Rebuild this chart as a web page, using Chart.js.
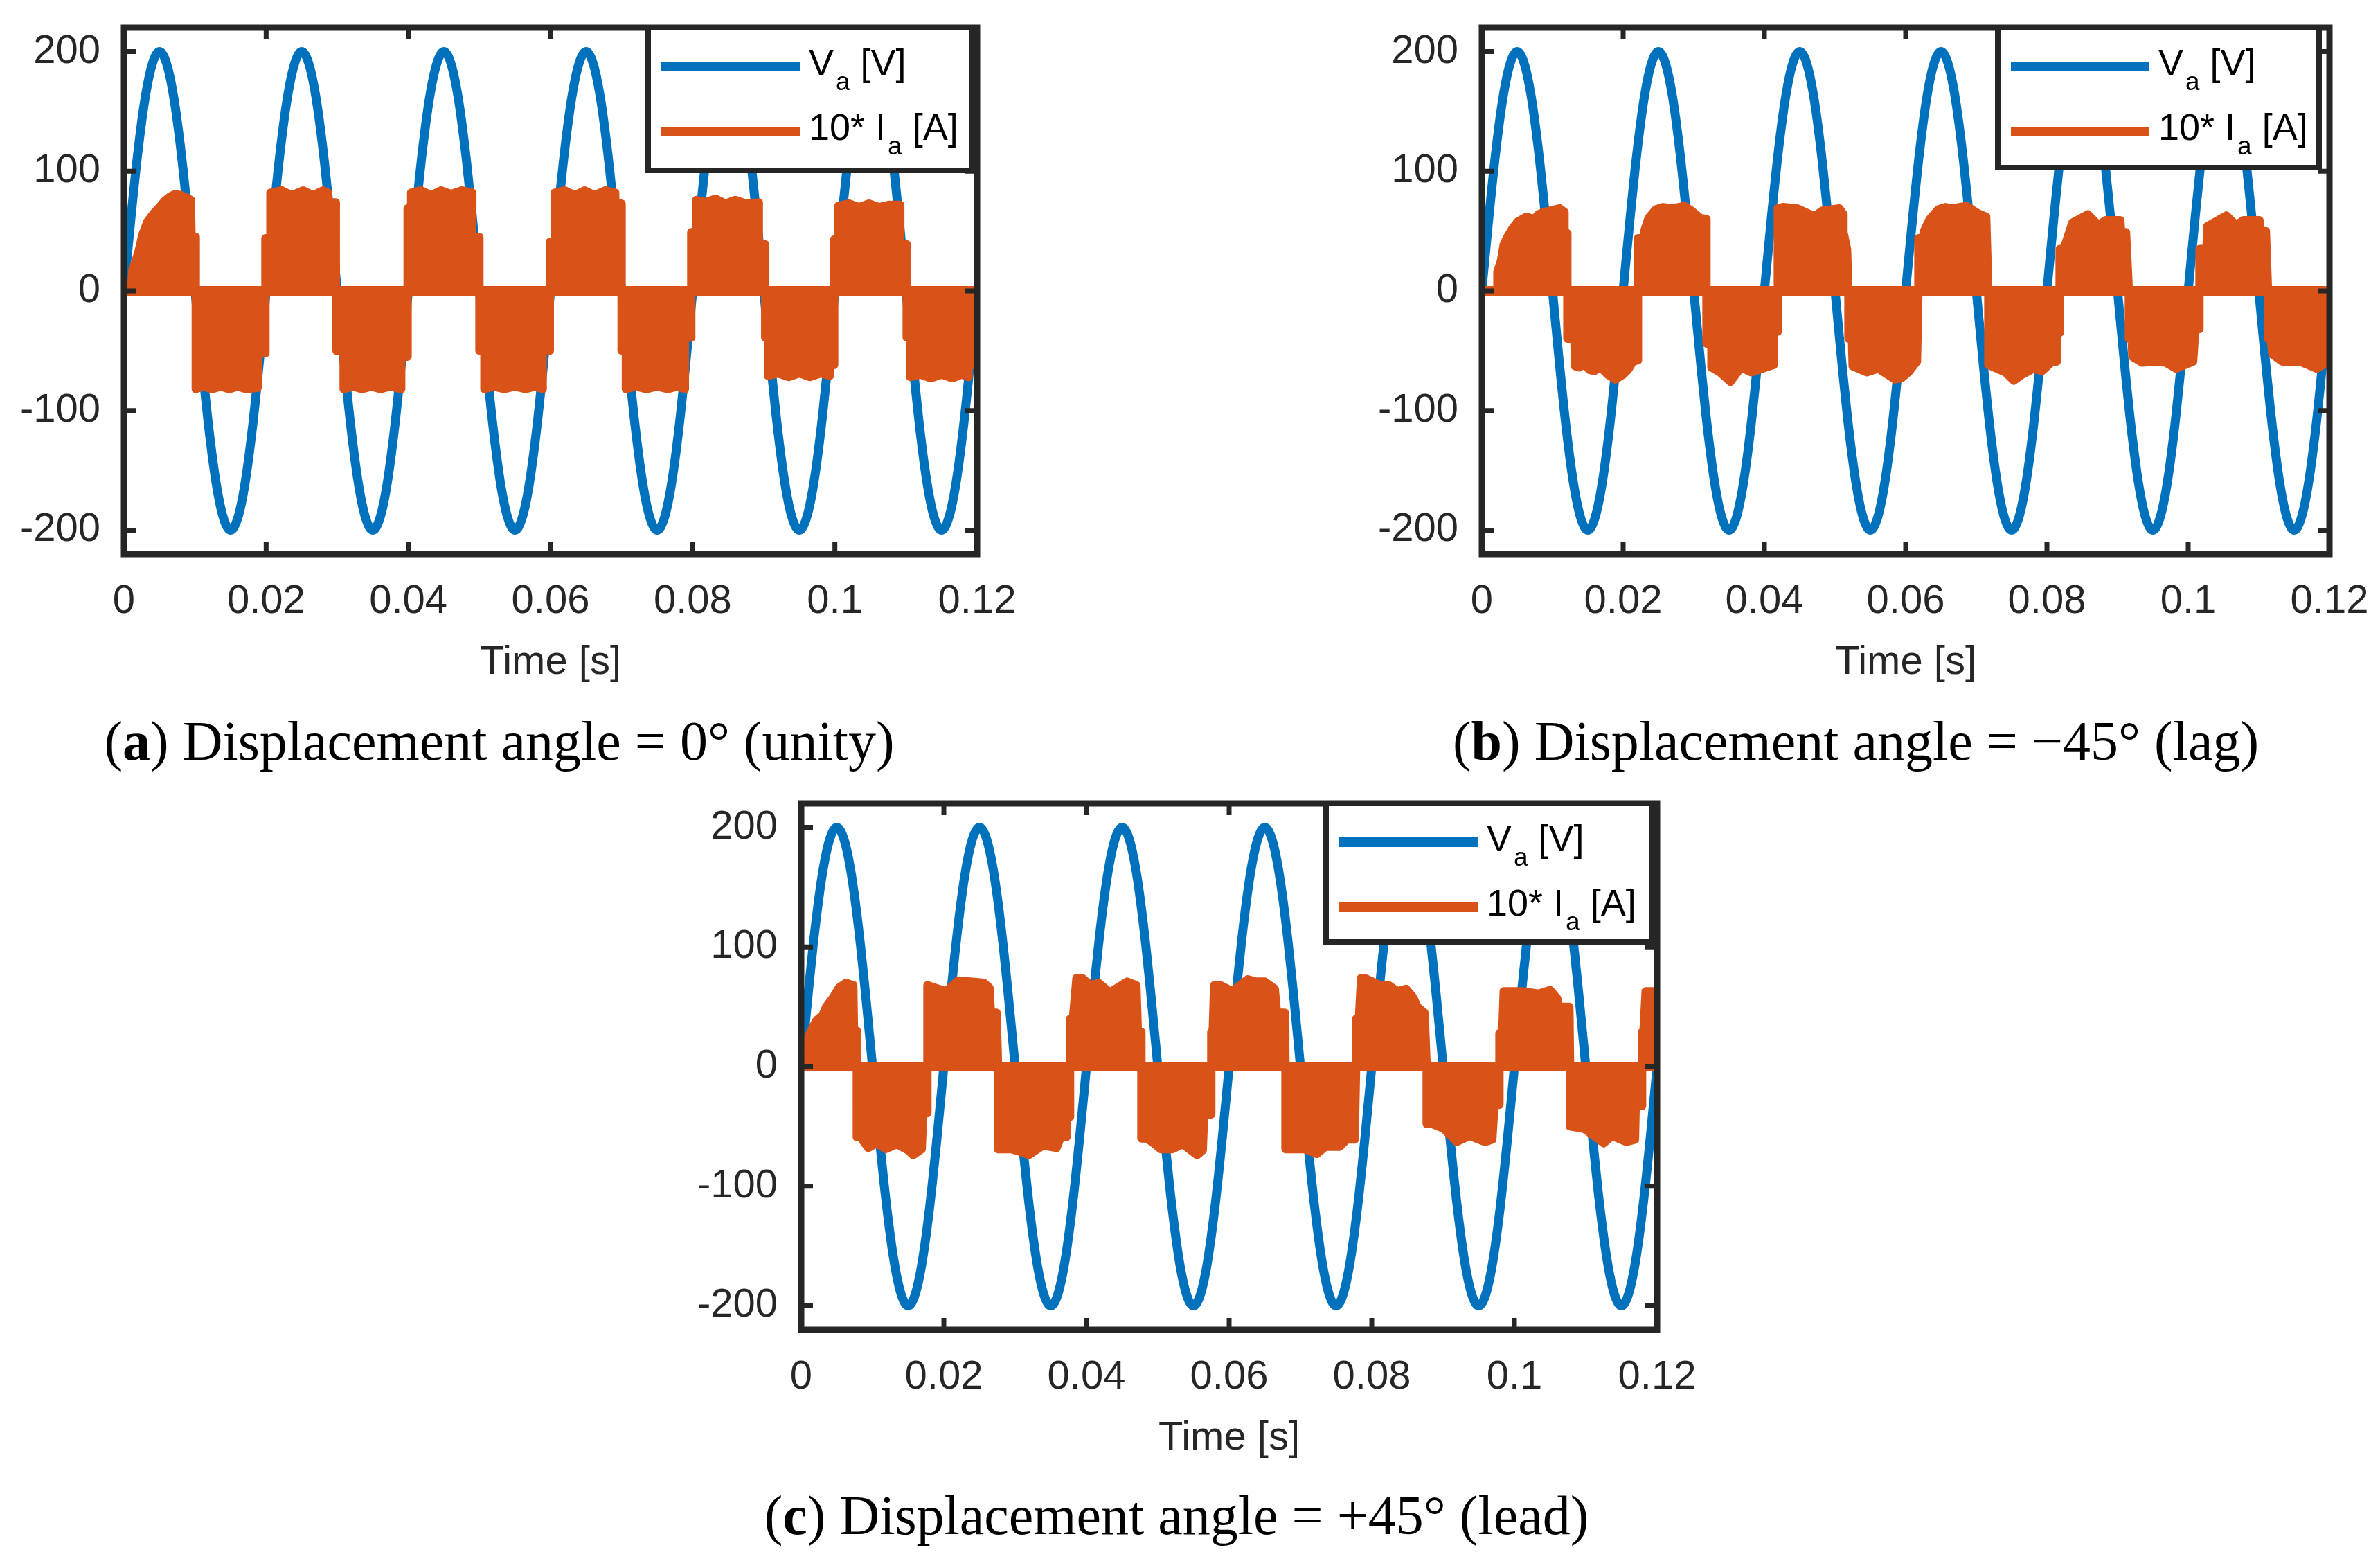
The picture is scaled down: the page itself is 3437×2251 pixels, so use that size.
<!DOCTYPE html>
<html>
<head>
<meta charset="utf-8">
<script src="https://cdn.jsdelivr.net/npm/chart.js@4.4.1/dist/chart.umd.min.js"></script>
<style>
html,body{margin:0;padding:0;background:#fff;}
body{width:3437px;height:2251px;position:relative;overflow:hidden;}
canvas{position:absolute;}
.cap{position:absolute;transform:translate(-50%,-50%);font-family:'Liberation Serif',serif;font-size:80px;white-space:nowrap;line-height:1;color:#000;}
</style>
</head>
<body>
<canvas id="ca" width="1480" height="1010" style="left:0px;top:0px;width:1480px;height:1010px"></canvas>
<canvas id="cb" width="1472" height="1010" style="left:1961px;top:0px;width:1472px;height:1010px"></canvas>
<canvas id="cc" width="1484" height="1010" style="left:978px;top:1120px;width:1484px;height:1010px"></canvas>
<div class="cap" style="left:721px;top:1070px">(<b>a</b>) Displacement angle = 0° (unity)</div>
<div class="cap" style="left:2680px;top:1070px">(<b>b</b>) Displacement angle = −45° (lag)</div>
<div class="cap" style="left:1699px;top:2188px">(<b>c</b>) Displacement angle = +45° (lead)</div>
<script>
// ---------------- data ----------------
const xTicks = [0, 0.02, 0.04, 0.06, 0.08, 0.1, 0.12];
const xTickLabels = ['0', '0.02', '0.04', '0.06', '0.08', '0.1', '0.12'];
const yTicks = [-200, -100, 0, 100, 200];
const yTickLabels = ['-200', '-100', '0', '100', '200'];
const xTitle = 'Time [s]';

// voltage samples (V), one every 1 ms from t = 0 to 0.12 s
const voltStep = 0.001;
const voltage = [
  0, 62, 118, 162, 190, 200, 190, 162, 118, 62, 0, -62, -118, -162, -190, -200, -190, -162, -118, -62,
  0, 62, 118, 162, 190, 200, 190, 162, 118, 62, 0, -62, -118, -162, -190, -200, -190, -162, -118, -62,
  0, 62, 118, 162, 190, 200, 190, 162, 118, 62, 0, -62, -118, -162, -190, -200, -190, -162, -118, -62,
  0, 62, 118, 162, 190, 200, 190, 162, 118, 62, 0, -62, -118, -162, -190, -200, -190, -162, -118, -62,
  0, 62, 118, 162, 190, 200, 190, 162, 118, 62, 0, -62, -118, -162, -190, -200, -190, -162, -118, -62,
  0, 62, 118, 162, 190, 200, 190, 162, 118, 62, 0, -62, -118, -162, -190, -200, -190, -162, -118, -62,
  0
];

// 10*Ia envelope [t (s), value] — panel (a) unity
const currentA = [
  [0,0],[0.0010,0],[0.0012,18],[0.0016,24],[0.0021,34],[0.0026,47],[0.0033,58],[0.0042,65],[0.0050,70],[0.0057,75],[0.0065,79],[0.0072,81],[0.0080,80],[0.0088,78],[0.0094,76],[0.0095,46],[0.0101,45],[0.0101,0],
  [0.0101,-82],[0.0112,-80],[0.0124,-82],[0.0136,-80],[0.0148,-82],[0.0160,-80],[0.0172,-82],[0.0188,-81],[0.0188,-53],[0.0199,-52],[0.0199,0],
  [0.0199,44],[0.0206,44],[0.0206,82],[0.0222,84],[0.0236,80],[0.0252,84],[0.0266,80],[0.0280,84],[0.0287,82],[0.0287,74],[0.0298,74],[0.0298,0],
  [0.0299,-50],[0.0309,-50],[0.0309,-82],[0.0322,-80],[0.0335,-82],[0.0348,-80],[0.0361,-82],[0.0374,-80],[0.0390,-82],[0.0390,-55],[0.0399,-55],[0.0399,0],
  [0.0399,69],[0.0404,69],[0.0404,82],[0.0418,84],[0.0432,80],[0.0446,84],[0.0460,81],[0.0475,84],[0.0490,82],[0.0490,45],[0.0500,45],[0.0500,0],
  [0.0500,-50],[0.0507,-50],[0.0507,-82],[0.0520,-80],[0.0535,-82],[0.0550,-80],[0.0565,-82],[0.0578,-80],[0.0589,-82],[0.0589,-50],[0.0599,-50],[0.0599,0],
  [0.0599,41],[0.0606,41],[0.0606,82],[0.0620,84],[0.0634,80],[0.0648,84],[0.0662,80],[0.0677,84],[0.0691,82],[0.0691,73],[0.0700,73],[0.0700,0],
  [0.0700,-50],[0.0706,-50],[0.0706,-82],[0.0720,-80],[0.0735,-82],[0.0750,-80],[0.0765,-82],[0.0778,-80],[0.0789,-82],[0.0789,-39],[0.0798,-39],[0.0798,0],
  [0.0798,49],[0.0805,49],[0.0805,76],[0.0818,74],[0.0832,77],[0.0846,73],[0.0860,76],[0.0875,73],[0.0893,74],[0.0893,39],[0.0902,39],[0.0902,0],
  [0.0902,-39],[0.0906,-39],[0.0906,-71],[0.0920,-69],[0.0935,-72],[0.0950,-69],[0.0965,-72],[0.0980,-69],[0.0993,-71],[0.0993,-62],[0.0999,-62],[0.0999,0],
  [0.0999,43],[0.1005,43],[0.1005,71],[0.1020,73],[0.1034,70],[0.1048,73],[0.1062,70],[0.1077,72],[0.1092,72],[0.1092,39],[0.1101,39],[0.1101,0],
  [0.1101,-39],[0.1106,-39],[0.1106,-72],[0.1120,-70],[0.1135,-73],[0.1150,-70],[0.1165,-73],[0.1178,-70],[0.1188,-72],[0.1188,-62],[0.1200,-62],[0.1200,0]
];

// panel (b) lag
const currentB = [
  [0,0],[0.0022,0],[0.0022,16],[0.0027,25],[0.0031,39],[0.0037,46],[0.0043,52],[0.0051,58],[0.0063,62],[0.0074,60],[0.0080,64],[0.0088,66],[0.0096,67],[0.0110,69],[0.0117,66],[0.0117,50],[0.0121,48],[0.0121,0],
  [0.0121,-40],[0.0131,-40],[0.0132,-63],[0.0138,-64],[0.0146,-61],[0.0152,-66],[0.0159,-67],[0.0168,-64],[0.0178,-70],[0.0189,-74],[0.0200,-70],[0.0207,-66],[0.0214,-59],[0.0221,-58],[0.0221,0],
  [0.0221,44],[0.0230,44],[0.0230,50],[0.0236,61],[0.0246,68],[0.0256,70],[0.0270,69],[0.0287,71],[0.0297,67],[0.0309,61],[0.0318,60],[0.0318,0],
  [0.0318,-44],[0.0325,-44],[0.0325,-64],[0.0337,-68],[0.0352,-76],[0.0367,-64],[0.0381,-68],[0.0392,-66],[0.0407,-63],[0.0413,-62],[0.0413,-34],[0.0419,-34],[0.0419,0],
  [0.0419,69],[0.0426,70],[0.0446,69],[0.0465,64],[0.0470,62],[0.0482,67],[0.0506,69],[0.0512,64],[0.0512,49],[0.0517,35],[0.0519,0],
  [0.0519,-40],[0.0524,-40],[0.0525,-63],[0.0545,-68],[0.0561,-65],[0.0585,-74],[0.0594,-73],[0.0604,-68],[0.0616,-59],[0.0618,0],
  [0.0618,44],[0.0624,44],[0.0626,50],[0.0634,60],[0.0646,68],[0.0656,70],[0.0666,69],[0.0686,71],[0.0702,65],[0.0714,62],[0.0717,0],
  [0.0717,-62],[0.0741,-68],[0.0753,-75],[0.0765,-70],[0.0781,-65],[0.0793,-67],[0.0808,-59],[0.0814,-59],[0.0814,-35],[0.0818,-35],[0.0818,0],
  [0.0818,35],[0.0825,35],[0.0826,39],[0.0836,57],[0.0858,64],[0.0873,55],[0.0883,59],[0.0904,59],[0.0905,49],[0.0912,49],[0.0916,0],
  [0.0916,-40],[0.0920,-40],[0.0921,-55],[0.0935,-60],[0.0952,-59],[0.0968,-60],[0.0983,-65],[0.1007,-59],[0.1010,-32],[0.1016,-32],[0.1016,0],
  [0.1016,35],[0.1026,35],[0.1027,54],[0.1054,63],[0.1068,55],[0.1078,59],[0.1101,59],[0.1102,50],[0.1110,50],[0.1113,0],
  [0.1113,-40],[0.1117,-40],[0.1119,-53],[0.1133,-59],[0.1158,-59],[0.1182,-65],[0.1196,-60],[0.1200,-58],[0.1200,0]
];

// panel (c) lead
const currentC = [
  [0,0],[0.0002,0],[0.0004,15],[0.0008,23],[0.0016,33],[0.0022,39],[0.0030,43],[0.0035,50],[0.0045,58],[0.0053,66],[0.0063,70],[0.0073,68],[0.0074,30],[0.0078,30],[0.0078,0],
  [0.0078,-59],[0.0083,-59],[0.0088,-63],[0.0094,-68],[0.0106,-64],[0.0118,-69],[0.0134,-65],[0.0150,-70],[0.0157,-74],[0.0169,-69],[0.0171,-39],[0.0177,-39],[0.0177,0],
  [0.0177,68],[0.0187,66],[0.0203,63],[0.0220,72],[0.0240,71],[0.0256,70],[0.0264,66],[0.0266,45],[0.0274,45],[0.0276,0],
  [0.0276,-69],[0.0295,-69],[0.0311,-72],[0.0319,-74],[0.0339,-66],[0.0358,-68],[0.0364,-59],[0.0372,-59],[0.0373,-42],[0.0377,-42],[0.0377,0],
  [0.0377,40],[0.0381,40],[0.0386,74],[0.0394,74],[0.0406,68],[0.0417,70],[0.0433,62],[0.0457,71],[0.0470,68],[0.0472,29],[0.0477,29],[0.0477,0],
  [0.0477,-60],[0.0484,-60],[0.0492,-63],[0.0504,-69],[0.0520,-69],[0.0535,-65],[0.0555,-74],[0.0563,-70],[0.0565,-40],[0.0575,-40],[0.0575,0],
  [0.0575,29],[0.0577,29],[0.0579,68],[0.0588,68],[0.0604,63],[0.0626,73],[0.0638,71],[0.0650,71],[0.0664,65],[0.0667,45],[0.0678,45],[0.0679,0],
  [0.0679,-69],[0.0706,-69],[0.0723,-73],[0.0735,-67],[0.0755,-67],[0.0765,-61],[0.0776,-61],[0.0778,0],
  [0.0778,40],[0.0782,40],[0.0785,74],[0.0790,74],[0.0812,68],[0.0824,68],[0.0836,63],[0.0848,65],[0.0858,58],[0.0864,50],[0.0874,45],[0.0877,0],
  [0.0877,-48],[0.0885,-48],[0.0901,-52],[0.0919,-63],[0.0937,-58],[0.0959,-63],[0.0969,-61],[0.0972,-32],[0.0979,-32],[0.0979,0],
  [0.0979,28],[0.0983,28],[0.0985,63],[0.1010,63],[0.1034,61],[0.1050,64],[0.1060,57],[0.1062,50],[0.1077,50],[0.1078,0],
  [0.1078,-50],[0.1098,-52],[0.1114,-59],[0.1125,-64],[0.1137,-58],[0.1157,-63],[0.1169,-61],[0.1170,-33],[0.1179,-33],[0.1179,0],
  [0.1179,29],[0.1181,29],[0.1184,63],[0.1200,63],[0.1200,0]
];

// current zero level (switching "off" state) spans the whole record
const zeroLevel = [[0, 0], [0.12, 0]];

const legendEntries = [
  {main: 'V', sub: 'a', tail: ' [V]'},
  {main: '10* I', sub: 'a', tail: ' [A]'}
];

// ---------------- styling ----------------
const BLUE = '#0072BD';
const ORANGE = '#D95319';
const AXIS = '#262626';
const SANS = "'Liberation Sans', Arial, sans-serif";

const framePlugin = {
  id: 'frame',
  afterDraw(chart, args, opts) {
    const ctx = chart.ctx;
    const ca = chart.chartArea;
    const xs = chart.scales.x, ys = chart.scales.y;
    ctx.save();
    // box
    ctx.strokeStyle = AXIS;
    ctx.lineWidth = 9;
    ctx.lineJoin = 'miter';
    ctx.strokeRect(ca.left, ca.top, ca.right - ca.left, ca.bottom - ca.top);
    // inward ticks on all sides
    ctx.lineWidth = 7;
    const tl = 17;
    ctx.beginPath();
    xTicks.forEach(v => {
      const px = xs.getPixelForValue(v);
      ctx.moveTo(px, ca.bottom); ctx.lineTo(px, ca.bottom - tl);
      ctx.moveTo(px, ca.top); ctx.lineTo(px, ca.top + tl);
    });
    yTicks.forEach(v => {
      const py = ys.getPixelForValue(v);
      ctx.moveTo(ca.left, py); ctx.lineTo(ca.left + tl, py);
      ctx.moveTo(ca.right, py); ctx.lineTo(ca.right - tl, py);
    });
    ctx.stroke();
    // legend
    const w = opts.width, h = opts.height;
    const x0 = ca.right - opts.rightInset - w;
    const y0 = ca.top;
    ctx.fillStyle = '#fff';
    ctx.fillRect(x0, y0, w, h);
    ctx.lineWidth = 8;
    ctx.strokeStyle = AXIS;
    ctx.strokeRect(x0, y0, w, h);
    const rows = [
      {color: BLUE, lineY: 56, base: 69, e: legendEntries[0]},
      {color: ORANGE, lineY: 150, base: 162, e: legendEntries[1]}
    ];
    rows.forEach(r => {
      ctx.strokeStyle = r.color;
      ctx.lineWidth = 14;
      ctx.lineCap = 'butt';
      ctx.beginPath();
      ctx.moveTo(x0 + 19, y0 + r.lineY);
      ctx.lineTo(x0 + 219, y0 + r.lineY);
      ctx.stroke();
      ctx.fillStyle = '#000';
      ctx.textBaseline = 'alphabetic';
      ctx.textAlign = 'left';
      let tx = x0 + 232;
      ctx.font = '54px ' + SANS;
      ctx.fillText(r.e.main, tx, y0 + r.base);
      tx += ctx.measureText(r.e.main).width + 3;
      ctx.font = '37px ' + SANS;
      ctx.fillText(r.e.sub, tx, y0 + r.base + 21);
      tx += ctx.measureText(r.e.sub).width;
      ctx.font = '54px ' + SANS;
      ctx.fillText(r.e.tail, tx, y0 + r.base);
    });
    ctx.restore();
  }
};

function toXY(pairs) { return pairs.map(p => ({x: p[0], y: p[1]})); }

const hiddenGrid = (len) => ({display: true, drawOnChartArea: false, drawTicks: true, tickLength: len, color: 'rgba(0,0,0,0)'});

function makeChart(id, current, legendOpts) {
  return new Chart(document.getElementById(id), {
    type: 'line',
    data: {
      datasets: [
        {label: 'zero', data: toXY(zeroLevel), borderColor: ORANGE, borderWidth: 14, pointRadius: 0, fill: false},
        {label: '10* Ia [A]', data: toXY(current), borderColor: ORANGE, backgroundColor: ORANGE, borderWidth: 12,
         pointRadius: 0, fill: 'origin', tension: 0, borderJoinStyle: 'round', borderCapStyle: 'round'},
        {label: 'Va [V]', data: voltage.map((v, i) => ({x: i * voltStep, y: v})), borderColor: BLUE, borderWidth: 13,
         pointRadius: 0, fill: false, cubicInterpolationMode: 'monotone'}
      ]
    },
    options: {
      responsive: false,
      devicePixelRatio: 1,
      animation: false,
      layout: {padding: {top: 40, right: 69, left: 0, bottom: 0}},
      plugins: {legend: {display: false}, tooltip: {enabled: false}, frame: legendOpts},
      scales: {
        x: {
          type: 'linear', min: 0, max: 0.12,
          afterBuildTicks: s => { s.ticks = xTicks.map(v => ({value: v})); },
          afterFit: s => { s.height = 210; },
          ticks: {callback: (v, i) => xTickLabels[i], font: {family: SANS, size: 58}, color: AXIS, padding: 0, maxRotation: 0, autoSkip: false},
          grid: hiddenGrid(34),
          border: {display: false},
          title: {display: true, text: xTitle, font: {family: SANS, size: 58}, color: AXIS, padding: {top: 0, bottom: 18}}
        },
        y: {
          type: 'linear', min: -220, max: 220,
          afterBuildTicks: s => { s.ticks = yTicks.map(v => ({value: v})); },
          afterFit: s => { s.width = 179; },
          ticks: {callback: (v, i) => yTickLabels[i], font: {family: SANS, size: 58}, color: AXIS, padding: 0, autoSkip: false},
          grid: hiddenGrid(34),
          border: {display: false}
        }
      }
    },
    plugins: [framePlugin]
  });
}

makeChart('ca', currentA, {width: 467, height: 206, rightInset: 8});
makeChart('cb', currentB, {width: 464, height: 202, rightInset: 15});
makeChart('cc', currentC, {width: 470, height: 200, rightInset: 8});
</script>
</body>
</html>
